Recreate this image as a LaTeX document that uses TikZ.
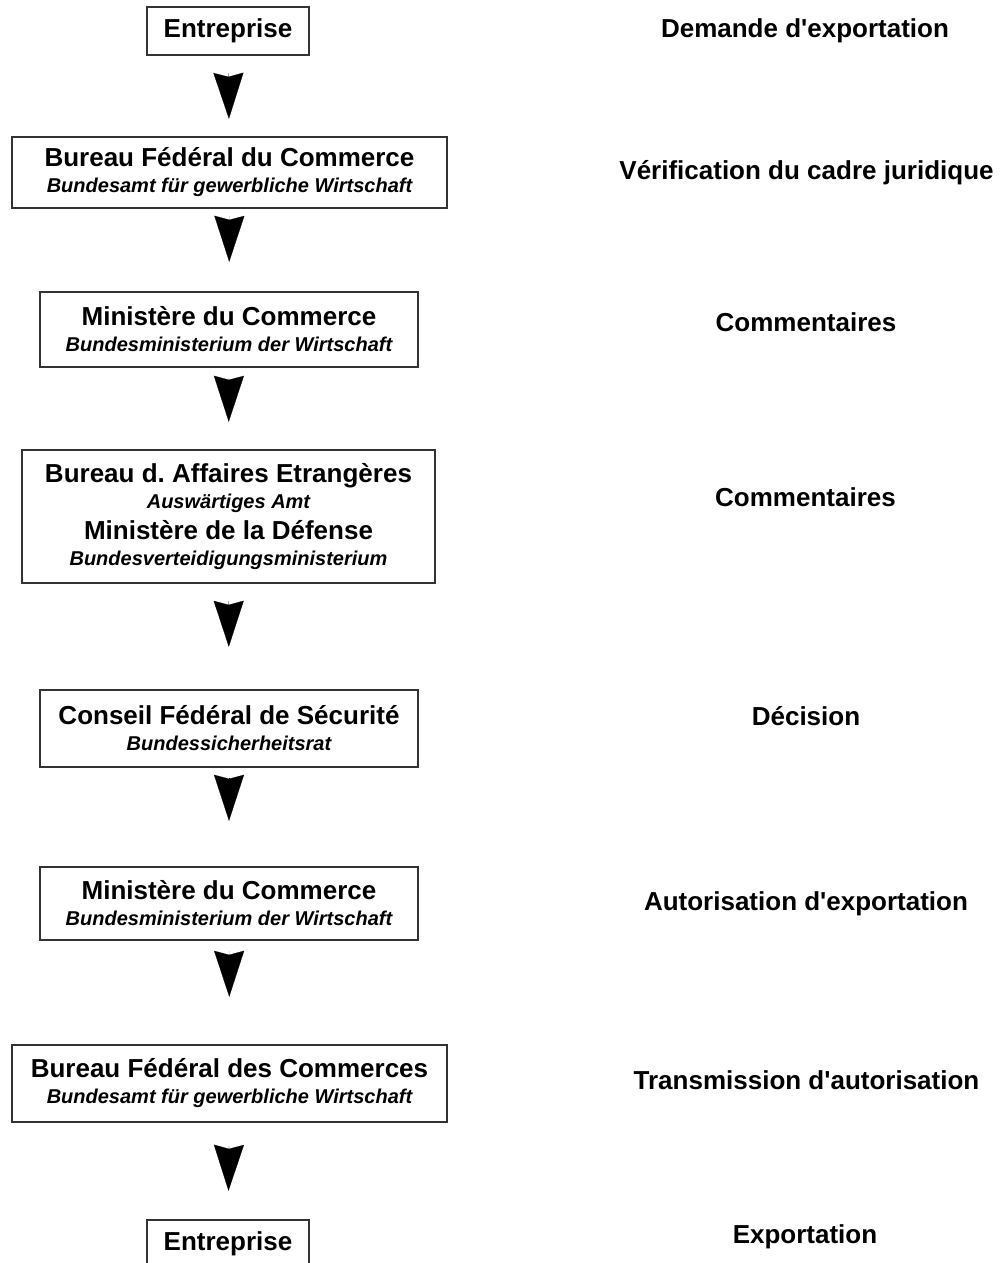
\documentclass[tikz,border=0pt]{standalone}
\usepackage{fontspec}
\setmainfont{Liberation Sans}
\usetikzlibrary{arrows.meta,positioning}

\newcommand\german[1]{{\fontsize{10}{12}\selectfont\itshape #1}}

\begin{document}
\begin{tikzpicture}[
     x = 0.5pt, y = -0.5pt,
     font = \fontsize{13}{15}\selectfont\bfseries,
     office/.style = {draw = black!80, line width = 1.2pt, fill = white,
                      align = center, inner sep = 0pt},
     remark/.style = {right of = #1, node distance = 288.5pt},
     flow/.style 2 args = {-{Stealth[length = 23pt, width = 15pt, inset = 2pt]},
                           line width = 0.1pt, shorten <= #1, shorten >= #2}
    ]
    \useasboundingbox (0,0) rectangle (1007,1263);

    % offices
    \node [office, minimum width = 81pt, minimum height = 24pt] (firmA) at (228,31) {Entreprise};
    \node [office, minimum width = 217.5pt, minimum height = 35.5pt] (bafaA) at (229.5,172.5)
     {Bureau Fédéral du Commerce\\[-2pt] \german{Bundesamt für gewerbliche Wirtschaft}};
    \node [office, minimum width = 189pt, minimum height = 37.5pt] (bmwiA) at (229,329.5)
     {Ministère du Commerce\\[-2pt] \german{Bundesministerium der Wirtschaft}};
    \node [office, minimum width = 206.5pt, minimum height = 66.5pt] (aamt) at (228.5,516.5)
     {Bureau d.\ Affaires Etrangères\\[-2pt] \german{Auswärtiges Amt}\\[0.5pt]
      Ministère de la Défense\\[-2pt] \german{Bundesverteidigungsministerium}};
    \node [office, minimum width = 189pt, minimum height = 38.5pt] (bsr) at (229,728.5)
     {Conseil Fédéral de Sécurité\\[-2pt] \german{Bundessicherheitsrat}};
    \node [office, minimum width = 189pt, minimum height = 36.5pt] (bmwiB) at (229,903.5)
     {Ministère du Commerce\\[-2pt] \german{Bundesministerium der Wirtschaft}};
    \node [office, minimum width = 217.5pt, minimum height = 38.5pt] (bafaB) at (229.5,1083.5)
     {Bureau Fédéral des Commerces\\[-2pt] \german{Bundesamt für gewerbliche Wirtschaft}};
    \node [office, minimum width = 81pt, minimum height = 24pt] (firmB) at (228,1244) {Entreprise};

    % steps
    \node [remark = firmA] (demande) {Demande d\textquotesingle exportation};
    \node [remark = bafaA] (verif) {Vérification du cadre juridique};
    \node [remark = bmwiA, yshift = 3.5pt] (commA) {Commentaires};
    \node [remark = aamt, yshift = 9.5pt] (commB) {Commentaires};
    \node [remark = bsr, yshift = 6pt] (decision) {Décision};
    \node [remark = bmwiB] (autor) {Autorisation d\textquotesingle exportation};
    \node [remark = bafaB, yshift = 1.5pt] (transm) {Transmission d\textquotesingle autorisation};
    \node [remark = firmB, yshift = 3.5pt] (export) {Exportation};

    \draw [flow = {8.5pt}{8.5pt}] (firmA) -- (bafaA);
    \draw [flow = {3.5pt}{14.5pt}] (bafaA) -- (bmwiA);
    \draw [flow = {5pt}{13.5pt}] (bmwiA) -- (aamt);
    \draw [flow = {8.5pt}{21pt}] (aamt) -- (bsr);
    \draw [flow = {5pt}{22.5pt}] (bsr) -- (bmwiB);
    \draw [flow = {5pt}{23.5pt}] (bmwiB) -- (bafaB);
    \draw [flow = {11.5pt}{14pt}] (bafaB) -- (firmB);
\end{tikzpicture}
\end{document}
